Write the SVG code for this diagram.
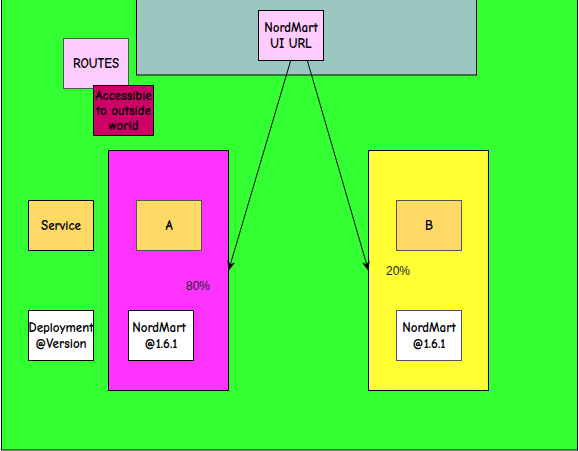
<svg xmlns="http://www.w3.org/2000/svg" width="579" height="451" viewBox="0 0 579 451">
<defs>
<marker id="arr" viewBox="0 0 10 10" refX="9" refY="5" markerWidth="10" markerHeight="10" markerUnits="userSpaceOnUse" orient="auto">
<path d="M0,1 L10,5 L0,9 L3,5 Z" fill="#000"/>
</marker>
</defs>
<style>
.lbl{font-family:"Comic Neue","DejaVu Sans",sans-serif;font-size:13px;font-weight:bold;fill:#000;text-anchor:middle}
.pct{font-family:"Liberation Sans",Arial,sans-serif;font-size:12px;fill:#222;text-anchor:middle}
.box{stroke:#000;stroke-width:1}
</style>
<rect x="1.5" y="-1" width="576" height="451" fill="#33FF33" stroke="#000"/>
<g id="ui-area"><rect x="136.5" y="-1" width="340" height="76" fill="#9AC7C0" class="box"/></g>
<g id="nordmart-ui-url"><rect x="258.5" y="10.5" width="65" height="50" fill="#FFCCFF" class="box"/>
<text class="lbl" x="291" y="32">NordMart</text><text class="lbl" x="291" y="48">UI URL</text></g>
<g id="routes"><rect x="63.5" y="38.5" width="65" height="50" fill="#FFCCFF" stroke="#555"/>
<text class="lbl" x="96" y="68">ROUTES</text></g>
<g id="accessible"><rect x="93.5" y="85.5" width="60" height="50" fill="#CC0066" class="box"/>
<text class="lbl" x="123.5" y="100" font-size="12.5">Accessible</text><text class="lbl" x="123.5" y="115" font-size="12.5">to outside</text><text class="lbl" x="123.5" y="130" font-size="12.5">world</text></g>
<g id="version-a"><rect x="108.5" y="150.5" width="120" height="240" fill="#FF33FF" class="box"/></g>
<g id="version-b"><rect x="368.5" y="150.5" width="120" height="240" fill="#FFFF33" class="box"/></g>
<g id="service"><rect x="28.5" y="200.5" width="65" height="50" fill="#FFD966" class="box"/>
<text class="lbl" x="61" y="230">Service</text></g>
<g id="service-a"><rect x="136.5" y="200.5" width="65" height="50" fill="#FFD966" stroke="#555"/>
<text class="lbl" x="169" y="230">A</text></g>
<g id="service-b"><rect x="396.5" y="200.5" width="65" height="50" fill="#FFD966" stroke="#555"/>
<text class="lbl" x="429" y="230">B</text></g>
<g id="deployment"><rect x="28.5" y="310.5" width="65" height="50" fill="#FFFFFF" class="box"/>
<text class="lbl" x="61" y="332">Deployment</text><text class="lbl" x="61" y="348">@Version</text></g>
<g id="nordmart-a"><rect x="128.5" y="310.5" width="65" height="50" fill="#FFFFFF" class="box"/>
<text class="lbl" x="159" y="332">NordMart</text><text class="lbl" x="161" y="348">@1.6.1</text></g>
<g id="nordmart-b"><rect x="396.5" y="310.5" width="65" height="50" fill="#FFFFFF" stroke="#555"/>
<text class="lbl" x="429" y="332">NordMart</text><text class="lbl" x="429" y="348">@1.6.1</text></g>
<g id="connectors" stroke="#000" stroke-width="1" fill="none">
<line x1="290.7" y1="60.5" x2="228.7" y2="270" marker-end="url(#arr)"/>
<line x1="307.3" y1="60.5" x2="368.3" y2="270" marker-end="url(#arr)"/>
</g>
<g id="labels">
<text class="pct" x="198" y="290">80%</text>
<text class="pct" x="398" y="275">20%</text>
</g>
</svg>
